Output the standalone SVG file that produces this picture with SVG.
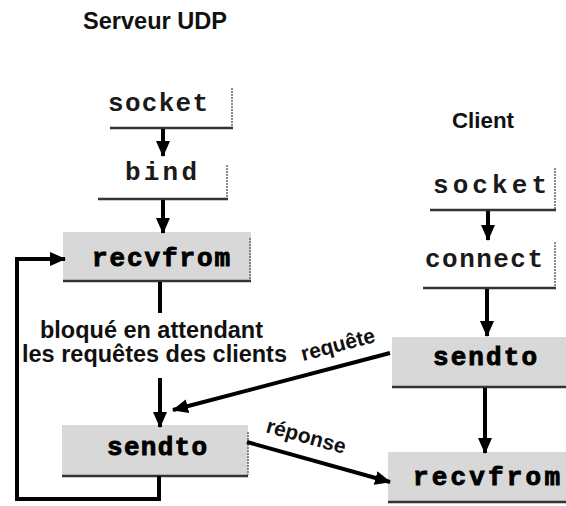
<svg xmlns="http://www.w3.org/2000/svg" width="566" height="506" viewBox="0 0 566 506">
  <style>
    .title { font-family: "Liberation Sans", Arial, sans-serif; font-weight: bold; fill: #111; }
    .note  { font-family: "Liberation Sans", Arial, sans-serif; font-weight: bold; fill: #111; font-size: 23px; }
    .call  { font-family: "Liberation Mono", "Courier New", monospace; font-weight: bold; font-size: 26px; fill: #1a1a1a; }
    .callb { font-family: "Liberation Mono", "Courier New", monospace; font-weight: bold; font-size: 26px; fill: #000; stroke: #000; stroke-width: 0.9px; }
    .shade { fill: #d8d8d8; }
    .edge  { stroke: #333; stroke-width: 2.5; fill: none; }
    .side  { stroke: #666; stroke-width: 1.5; fill: none; stroke-dasharray: 2 1; }
    .wire  { stroke: #000; stroke-width: 4; fill: none; }
    .arrow { stroke: #000; stroke-width: 4; fill: none; marker-end: url(#head); }
    .lbl   { font-family: "Liberation Sans", Arial, sans-serif; font-weight: bold; font-size: 21px; fill: #111; }
  </style>
  <defs>
    <marker id="head" markerUnits="userSpaceOnUse" markerWidth="16" markerHeight="14" refX="15" refY="7" orient="auto">
      <path d="M0,0 L16,7 L0,14 z" fill="#000"/>
    </marker>
  </defs>

  <rect width="566" height="506" fill="#fff"/>

  <!-- headings -->
  <text class="title" x="83" y="29" font-size="23" textLength="144" lengthAdjust="spacingAndGlyphs">Serveur UDP</text>
  <text class="title" x="452" y="128" font-size="22" textLength="62" lengthAdjust="spacingAndGlyphs">Client</text>

  <!-- server side -->
  <g id="srv-socket">
    <path class="side" d="M232,88 V128"/>
    <path class="edge" d="M110,128 H233"/>
    <text class="call" x="108" y="111" textLength="100" lengthAdjust="spacing">socket</text>
  </g>
  <g id="srv-bind">
    <path class="side" d="M227,165 V199"/>
    <path class="edge" d="M98,199 H228"/>
    <text class="call" x="125" y="180" textLength="72" lengthAdjust="spacing">bind</text>
  </g>
  <g id="srv-recvfrom">
    <rect class="shade" x="63" y="232" width="188" height="50"/>
    <path class="side" d="M250,238 V279"/>
    <path class="edge" d="M63,281 H251"/>
    <text class="callb" x="92" y="266" textLength="138" lengthAdjust="spacing">recvfrom</text>
  </g>
  <g id="srv-wait">
    <text class="note" x="40" y="338" textLength="223" lengthAdjust="spacingAndGlyphs">bloqué en attendant</text>
    <text class="note" x="22" y="362" textLength="265" lengthAdjust="spacingAndGlyphs">les requêtes des clients</text>
  </g>
  <g id="srv-sendto">
    <rect class="shade" x="62" y="425" width="186" height="51"/>
    <path class="side" d="M248,432 V475"/>
    <path class="edge" d="M62,476 H248"/>
    <text class="callb" x="107" y="455" textLength="100" lengthAdjust="spacing">sendto</text>
  </g>

  <!-- client side -->
  <g id="cli-socket">
    <path class="side" d="M555,168 V209"/>
    <path class="edge" d="M430,210 H556"/>
    <text class="call" x="433" y="193" textLength="114" lengthAdjust="spacing">socket</text>
  </g>
  <g id="cli-connect">
    <path class="side" d="M555,242 V287"/>
    <path class="edge" d="M423,288 H556"/>
    <text class="call" x="425" y="267" textLength="118" lengthAdjust="spacing">connect</text>
  </g>
  <g id="cli-sendto">
    <rect class="shade" x="392" y="337" width="174" height="50"/>
    <path class="edge" d="M392,387 H566"/>
    <text class="callb" x="433" y="365" textLength="104" lengthAdjust="spacing">sendto</text>
  </g>
  <g id="cli-recvfrom">
    <rect class="shade" x="388" y="452" width="178" height="50"/>
    <path class="edge" d="M388,502 H566"/>
    <text class="callb" x="413" y="485" textLength="147" lengthAdjust="spacing">recvfrom</text>
  </g>

  <!-- connectors -->
  <g id="connectors">
    <path class="arrow" d="M163,129 V156"/>
    <path class="arrow" d="M163,200 V233"/>
    <path class="wire" d="M160,282 V313"/>
    <path class="arrow" d="M160,378 V427"/>
    <path class="arrow" d="M159,476 V499 H17 V259 H65"/>

    <path class="arrow" d="M488,211 V240"/>
    <path class="arrow" d="M487,289 V336"/>
    <path class="arrow" d="M485,388 V453"/>

    <path class="arrow" d="M390,353 L173,410"/>
    <text class="lbl" transform="translate(303,361) rotate(-14.7)">requête</text>
    <path class="arrow" d="M247,442 L390,482"/>
    <text class="lbl" transform="translate(265,432) rotate(15.6)">réponse</text>
  </g>
</svg>
